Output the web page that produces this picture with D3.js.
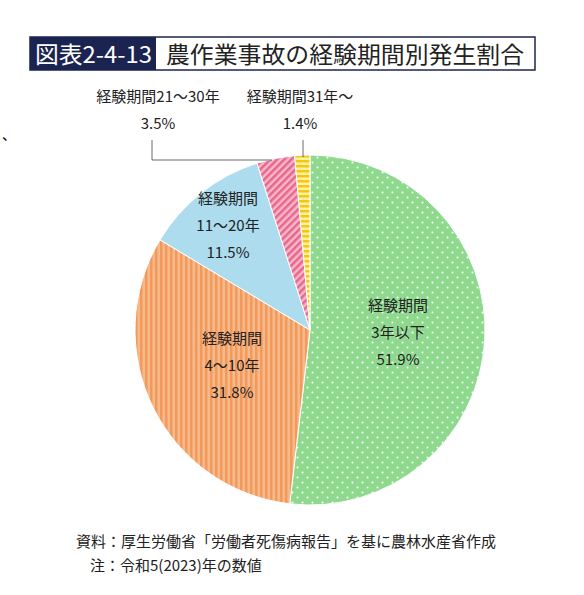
<html lang="ja">
<head>
<meta charset="utf-8" />
<script src="https://d3js.org/d3.v7.min.js"></script>
<style>body{margin:0;background:#fff;font-family:"Noto Sans CJK JP",sans-serif;}</style>
</head>
<body>
<svg id="c" width="584" height="595"></svg>
<script>
var categories = ["経験期間3年以下", "経験期間4～10年", "経験期間11～20年", "経験期間21～30年", "経験期間31年～"];
var values = [51.9, 31.8, 11.5, 3.5, 1.4];
var pctLabels = ["51.9%", "31.8%", "11.5%", "3.5%", "1.4%"];

var svg = d3.select("#c");
var font = "Noto Sans CJK JP";
var defs = svg.append("defs");

// patterns
var p = defs.append("pattern").attr("id", "p0").attr("width", 10).attr("height", 10).attr("patternUnits", "userSpaceOnUse");
p.append("rect").attr("width", 10).attr("height", 10).attr("fill", "#8fd98f");
p.append("circle").attr("cx", 2.5).attr("cy", 2.5).attr("r", 1).attr("fill", "#fff");
p.append("circle").attr("cx", 7.5).attr("cy", 7.5).attr("r", 1).attr("fill", "#fff");
p = defs.append("pattern").attr("id", "p1").attr("width", 5).attr("height", 5).attr("patternUnits", "userSpaceOnUse");
p.append("rect").attr("width", 5).attr("height", 5).attr("fill", "#f8b98a");
p.append("rect").attr("width", 2.5).attr("height", 5).attr("fill", "#f29a5c");
p = defs.append("pattern").attr("id", "p3").attr("width", 5).attr("height", 5).attr("patternUnits", "userSpaceOnUse").attr("patternTransform", "rotate(45)");
p.append("rect").attr("width", 5).attr("height", 5).attr("fill", "#f7b8c8");
p.append("rect").attr("width", 2.5).attr("height", 5).attr("fill", "#e8668e");
p = defs.append("pattern").attr("id", "p4").attr("width", 5).attr("height", 5).attr("patternUnits", "userSpaceOnUse");
p.append("rect").attr("width", 5).attr("height", 5).attr("fill", "#fff3a0");
p.append("rect").attr("width", 5).attr("height", 2.5).attr("fill", "#f5c518");
var fills = ["url(#p0)", "url(#p1)", "#acdcee", "url(#p3)", "url(#p4)"];

// title
svg.append("rect").attr("x", 30).attr("y", 37).attr("width", 505).attr("height", 33).attr("fill", "#fff").attr("stroke", "#1b2450").attr("stroke-width", 1.5);
svg.append("rect").attr("x", 30).attr("y", 37).attr("width", 126).attr("height", 33).attr("fill", "#1b2450");
svg.append("text").attr("x", 35).attr("y", 63).attr("fill", "#fff").attr("font-size", 23).attr("font-family", font)
  .attr("textLength", 117).attr("lengthAdjust", "spacingAndGlyphs").text("図表2-4-13");
svg.append("text").attr("x", 166).attr("y", 63).attr("fill", "#222").attr("font-size", 23).attr("font-family", font)
  .attr("textLength", 358).attr("lengthAdjust", "spacingAndGlyphs").text("農作業事故の経験期間別発生割合");

var cx = 310, cy = 330, r = 175;
var pie = d3.pie().sort(null)(values);
var arc = d3.arc().innerRadius(0).outerRadius(r);
var g = svg.append("g").attr("transform", "translate(" + cx + "," + cy + ")");
g.selectAll("path").data(pie).join("path").attr("d", arc)
  .attr("fill", function (d, i) { return fills[i]; })
  .attr("stroke", "#fff").attr("stroke-width", 1);

function label(x, y, lines) {
  var t = svg.append("text").attr("font-size", 15).attr("font-family", font).attr("fill", "#222").attr("text-anchor", "middle");
  lines.forEach(function (s, k) { t.append("tspan").attr("x", x).attr("y", y + k * 27).text(s); });
}
label(398, 311, ["経験期間", "3年以下", pctLabels[0]]);
label(232, 344, ["経験期間", "4～10年", pctLabels[1]]);
label(228, 204, ["経験期間", "11～20年", pctLabels[2]]);
label(158, 102, [categories[3], pctLabels[3]]);
label(300, 102, [categories[4], pctLabels[4]]);

// leader lines
svg.append("path").attr("d", "M152,140V160H272").attr("fill", "none").attr("stroke", "#444").attr("stroke-width", 0.8);
svg.append("path").attr("d", "M303,140V157").attr("fill", "none").attr("stroke", "#444").attr("stroke-width", 0.8);
svg.append("text").attr("x", 2).attr("y", 140).attr("font-size", 14).attr("font-family", font).text("、");

svg.append("text").attr("x", 76).attr("y", 547).attr("font-size", 15).attr("font-family", font).attr("fill", "#222").text("資料：厚生労働省「労働者死傷病報告」を基に農林水産省作成");
svg.append("text").attr("x", 90).attr("y", 571).attr("font-size", 15).attr("font-family", font).attr("fill", "#222").text("注：令和5(2023)年の数値");
</script>
</body>
</html>
